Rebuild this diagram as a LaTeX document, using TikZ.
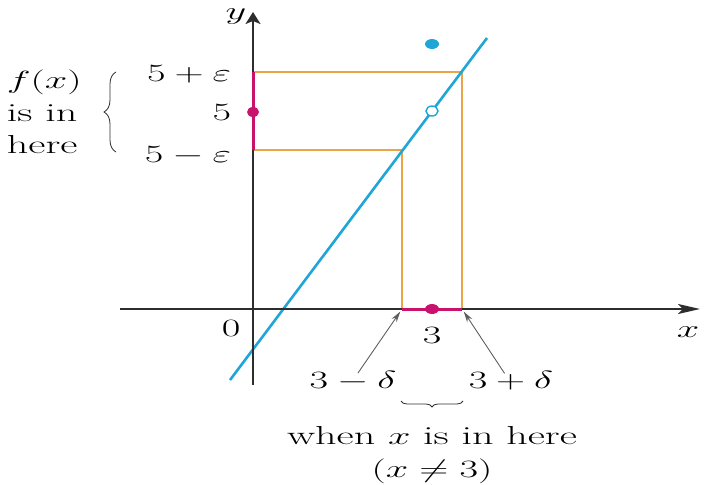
\documentclass[tikz,border=0pt]{standalone}
\usepackage{amsmath,amssymb}
\usetikzlibrary{arrows.meta,decorations.pathreplacing}
\definecolor{boxorange}{RGB}{236,164,72}
\definecolor{graphblue}{RGB}{32,166,214}
\definecolor{ptmagenta}{RGB}{200,18,108}
\definecolor{axisgray}{RGB}{45,45,45}
\definecolor{pointgray}{RGB}{95,95,95}
\begin{document}
\begin{tikzpicture}[x=0.6173pt,y=-1pt,xscale=1.62,
  every node/.style={transform shape,font=\fontsize{26}{32.5}\selectfont,inner sep=1pt},
  guide/.style={boxorange,line width=2.8pt},
  graph/.style={graphblue,line width=2.6pt},
  interval/.style={ptmagenta,line width=3pt},
  xaxis/.style={axisgray,line width=1.8pt,-{Stealth[length=22pt,width=10pt,inset=5pt]}},
  yaxis/.style={axisgray,line width=1.8pt,-{Stealth[length=12pt,width=15pt,inset=3pt]}},
  pointer/.style={pointgray,line width=0.9pt,-{Stealth[length=11pt,width=6pt]},shorten >=3pt},
  brace/.style={axisgray,line width=0.8pt,decorate,decoration={brace,amplitude=#1}}]
\useasboundingbox (0,0) rectangle (706,485);
% corners of the epsilon-delta box
\coordinate (O) at (253,309);
\coordinate (lo) at (402,309);
\coordinate (hi) at (462,309);
\coordinate (plo) at (402,150);
\coordinate (phi) at (462,72);
\coordinate (elo) at (253,150);
\coordinate (ehi) at (253,72);
\draw[guide] (ehi) -- (phi) -- (hi);
\draw[guide] (elo) -- (plo) -- (lo);
\draw[graph] (230,380) -- (487,38);
% axes
\draw[xaxis] (120,309) -- (700,309);
\draw[yaxis] (253,385) -- (253,12);
\draw[interval] (ehi) -- (elo);
\draw[interval] (lo) -- (hi);
\fill[ptmagenta] (253,112) ellipse (6 and 5);
\fill[ptmagenta] (432,309) ellipse (7 and 5);
\draw[graphblue,line width=1.4pt,fill=white] (432,111) ellipse (6 and 5);
\fill[graphblue] (432,44) ellipse (7 and 5);
% labels
\node (ylab) at (236,17) {$y$};
\node (xlab) at (688,332) {$x$};
\node (zero) at (231,328) {$0$};
\node[anchor=east] (ep) at (233,74) {$5+\varepsilon$};
\node[anchor=east] (five) at (233,112) {$5$};
\node[anchor=east] (em) at (233,156) {$5-\varepsilon$};
\node[align=left,anchor=west] (fx) at (5,112) {$f(x)$\\is in\\here};
\node (three) at (432,335) {$3$};
\node (dlo) at (353,381) {$3-\delta$};
\node (dhi) at (511,381) {$3+\delta$};
\node[align=center] (when) at (432,455) {when $x$ is in here\\$(x\neq3)$};
\draw[pointer] ([xshift=3pt,yshift=-3pt]dlo.north) -- (lo);
\draw[pointer] ([xshift=-4pt,yshift=-3pt]dhi.north) -- (hi);
\draw[brace=12pt] (116,152) -- (116,72);
\draw[brace=6pt] (463,401) -- (401,401);
\end{tikzpicture}
\end{document}
